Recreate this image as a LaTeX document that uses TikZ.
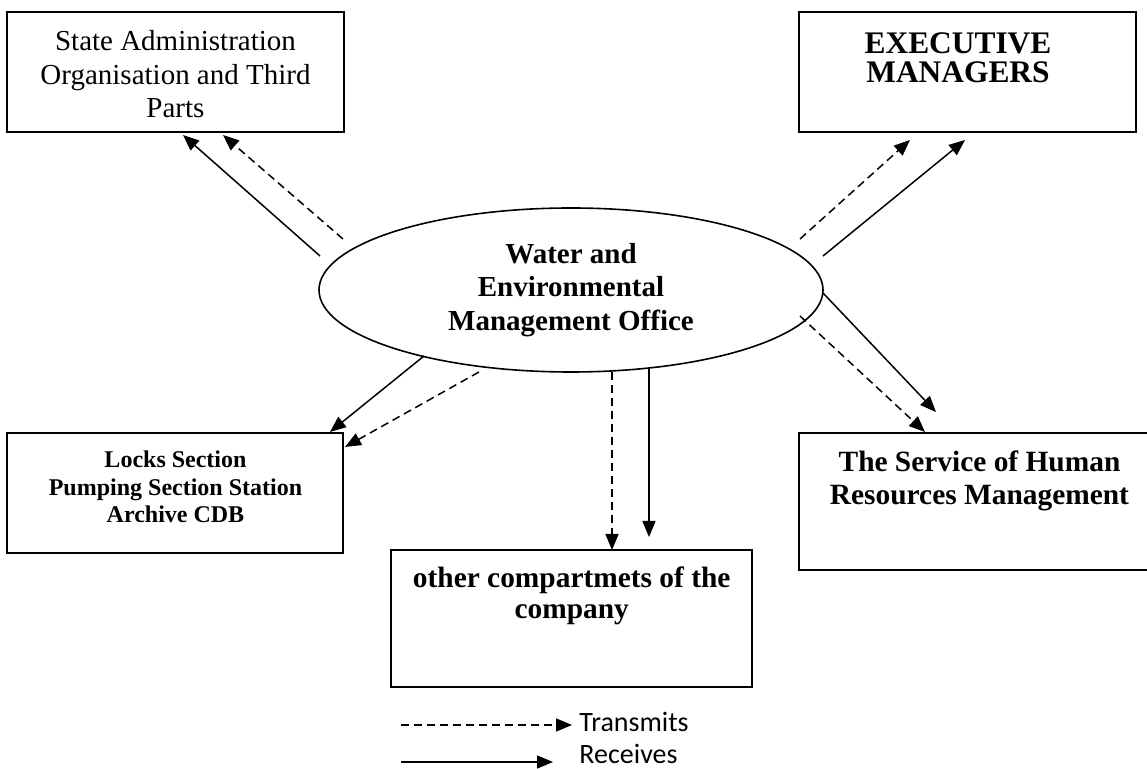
\documentclass[tikz,border=0pt]{standalone}
\usepackage{fontspec}
\setmainfont{Liberation Serif}
\newfontfamily\legendfont{Carlito}
\usetikzlibrary{arrows.meta,shapes.geometric}
\begin{document}
\begin{tikzpicture}[x=0.5pt,y=-0.5pt,
  box/.style={draw, line width=1pt, rectangle, inner sep=0pt},
  txt/.style={anchor=north, inner sep=0pt, align=center},
  recv/.style={line width=0.75pt, -{Triangle[length=8pt,width=6.5pt]}},
  trans/.style={recv, dash pattern=on 4pt off 2.5pt},
  legtxt/.style={anchor=base west, inner sep=0pt, font=\legendfont\fontsize{14}{16}\selectfont},
]
\useasboundingbox (0,0) rectangle (1147,769);

% boxes
\node[box, minimum width=168.5pt, minimum height=60pt] (b1) at (175.5,72) {};
\node[box, minimum width=168.5pt, minimum height=60pt] (b2) at (967.5,72) {};
\node[box, minimum width=168pt, minimum height=60pt] (b3) at (175,493) {};
\node[box, minimum width=180.5pt, minimum height=68.5pt] (b4) at (571.5,618.5) {};
\node[box, minimum width=175.5pt, minimum height=68.5pt] (b5) at (974.5,501.5) {};

% texts
\node[txt, font=\fontsize{14.5}{16.75}\selectfont] (t1) at (175.5,30)
  {State Administration\\Organisation and Third\\Parts};
\node[txt, font=\bfseries\fontsize{15.7}{14.5}\selectfont] (t2) at (958,32)
  {EXECUTIVE\\MANAGERS};
\node[txt, font=\bfseries\fontsize{12}{13.75}\selectfont] (t3) at (175.5,450.5)
  {Locks Section\\Pumping Section Station\\Archive CDB};
\node[txt, font=\bfseries\fontsize{14.7}{15.5}\selectfont] (t4) at (571.7,566.7)
  {other compartmets of the\\company};
\node[txt, font=\bfseries\fontsize{14.7}{16.75}\selectfont] (t5) at (979.5,450)
  {The Service of Human\\Resources Management};

% ellipse
\node[draw, ellipse, line width=0.8pt, inner sep=0pt, minimum width=252pt, minimum height=82pt,
      align=center, font=\bfseries\fontsize{14.5}{16.75}\selectfont] (e) at (571,290)
  {Water and\\Environmental\\Management Office};

% connector end points
\coordinate (ulS0) at (320,256); \coordinate (ulS1) at (183,135);
\coordinate (ulD0) at (343,239); \coordinate (ulD1) at (223,135);
\coordinate (urD0) at (800,239); \coordinate (urD1) at (910,140);
\coordinate (urS0) at (823,256); \coordinate (urS1) at (965,140);
\coordinate (llS0) at (424,356); \coordinate (llS1) at (330,432);
\coordinate (llD0) at (479,372); \coordinate (llD1) at (345,447);
\coordinate (bD0) at (612,372);  \coordinate (bD1) at (612,550);
\coordinate (bS0) at (649,368);  \coordinate (bS1) at (649,537);
\coordinate (lrS0) at (823,293); \coordinate (lrS1) at (936,412);
\coordinate (lrD0) at (800,316); \coordinate (lrD1) at (925,432);

\draw[recv]  (ulS0) -- (ulS1);
\draw[trans] (ulD0) -- (ulD1);
\draw[trans] (urD0) -- (urD1);
\draw[recv]  (urS0) -- (urS1);
\draw[recv]  (llS0) -- (llS1);
\draw[trans] (llD0) -- (llD1);
\draw[trans] (bD0) -- (bD1);
\draw[recv]  (bS0) -- (bS1);
\draw[recv]  (lrS0) -- (lrS1);
\draw[trans] (lrD0) -- (lrD1);

% legend
\coordinate (lt0) at (401,725); \coordinate (lt1) at (572,725);
\coordinate (lr0) at (401,762); \coordinate (lr1) at (553,762);
\draw[trans] (lt0) -- (lt1);
\draw[recv]  (lr0) -- (lr1);
\node[legtxt] (ltt) at (579,732) {Transmits};
\node[legtxt] (lrt) at (579,764) {Receives};
\end{tikzpicture}
\end{document}
